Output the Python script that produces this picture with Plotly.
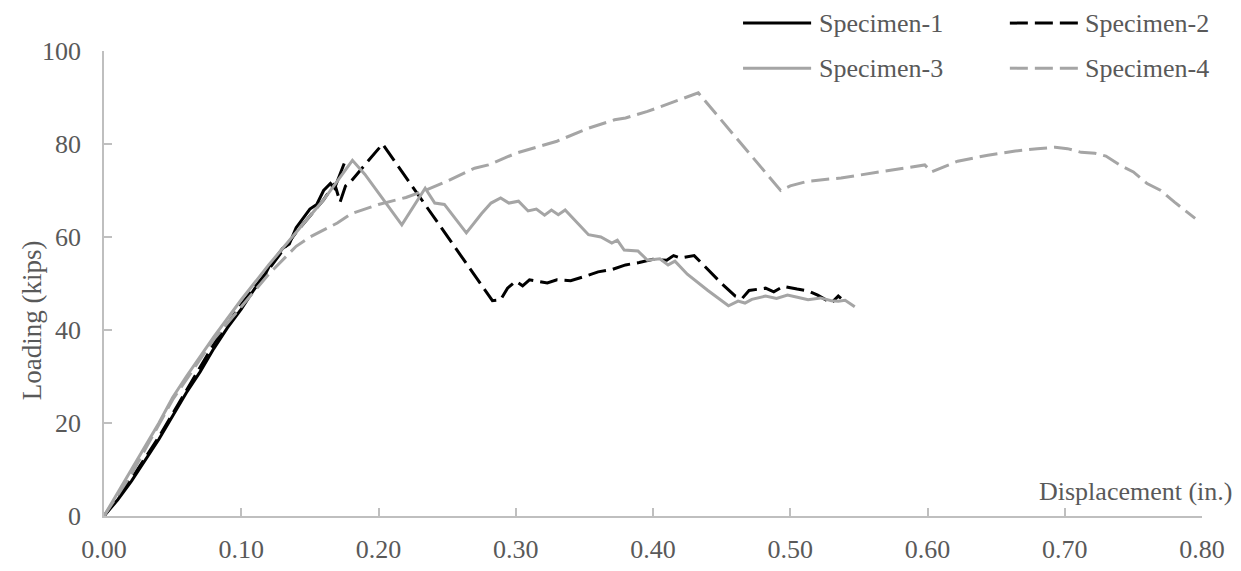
import plotly.graph_objects as go

# ---- data (displacement in., load kips) ----
s1_x = [0.0, 0.01, 0.02, 0.03, 0.04, 0.05, 0.06, 0.07, 0.08, 0.09, 0.10, 0.11, 0.115, 0.12, 0.13, 0.135, 0.14, 0.15, 0.155, 0.16, 0.165, 0.168, 0.172, 0.175]
s1_y = [0.0, 3.5, 7.5, 12.0, 16.5, 21.5, 26.5, 31.0, 36.0, 40.5, 44.5, 49.0, 50.5, 53.5, 57.5, 58.5, 62.0, 66.0, 67.0, 70.0, 71.5, 70.5, 73.5, 75.8]

s2_x = [0.0, 0.02, 0.04, 0.06, 0.08, 0.10, 0.12, 0.14, 0.16, 0.168, 0.172, 0.176, 0.18, 0.19, 0.203, 0.283, 0.289, 0.294, 0.30, 0.305, 0.31, 0.316, 0.323, 0.33, 0.34, 0.35, 0.36, 0.37, 0.38, 0.39, 0.40, 0.41, 0.415, 0.42, 0.43, 0.435, 0.45, 0.46, 0.465, 0.47, 0.482, 0.488, 0.495, 0.505, 0.513, 0.52, 0.53, 0.535, 0.537]
s2_y = [0.0, 8.0, 17.0, 27.0, 37.0, 45.5, 53.0, 61.0, 68.0, 71.5, 67.5, 71.0, 72.0, 75.5, 80.0, 46.3, 46.5, 49.0, 50.5, 49.5, 50.8, 50.5, 50.1, 50.8, 50.6, 51.5, 52.5, 53.0, 54.0, 54.5, 55.2, 55.0, 56.0, 55.5, 56.0, 54.5, 50.0, 47.3, 46.8, 48.5, 49.0, 48.2, 49.4, 48.8, 48.4, 47.5, 45.8, 47.3, 46.8]

s3_x = [0.0, 0.02, 0.04, 0.05, 0.06, 0.08, 0.10, 0.12, 0.14, 0.16, 0.17, 0.175, 0.181, 0.19, 0.217, 0.234, 0.241, 0.248, 0.264, 0.275, 0.282, 0.289, 0.295, 0.302, 0.309, 0.315, 0.321, 0.326, 0.331, 0.336, 0.345, 0.353, 0.362, 0.37, 0.374, 0.379, 0.389, 0.396, 0.405, 0.411, 0.416, 0.425, 0.44, 0.455, 0.462, 0.467, 0.472, 0.482, 0.49, 0.498, 0.506, 0.513, 0.522, 0.53, 0.535, 0.54, 0.547]
s3_y = [0.0, 10.0, 20.0, 25.5, 30.0, 38.5, 46.5, 54.0, 61.0, 68.0, 72.0, 74.0, 76.5, 73.5, 62.6, 70.5, 67.3, 67.0, 60.9, 65.0, 67.3, 68.4, 67.3, 67.7, 65.6, 66.0, 64.7, 65.8, 64.8, 65.8, 63.0, 60.5, 60.0, 58.7, 59.3, 57.2, 57.0, 55.0, 55.3, 54.0, 54.8, 52.0, 48.5, 45.2, 46.2, 45.8, 46.6, 47.3, 46.8, 47.5, 47.0, 46.5, 46.9, 46.3, 46.2, 46.4, 45.0]

s4_x = [0.0, 0.02, 0.05, 0.08, 0.10, 0.12, 0.14, 0.15, 0.17, 0.18, 0.20, 0.22, 0.234, 0.25, 0.27, 0.28, 0.30, 0.33, 0.353, 0.372, 0.38, 0.396, 0.433, 0.493, 0.50, 0.513, 0.537, 0.561, 0.586, 0.598, 0.603, 0.622, 0.644, 0.664, 0.68, 0.693, 0.702, 0.712, 0.722, 0.73, 0.741, 0.75, 0.76, 0.77, 0.78, 0.795]
s4_y = [0.0, 9.0, 25.0, 38.0, 45.0, 52.0, 58.0, 60.0, 63.0, 65.0, 67.0, 68.5, 70.0, 72.0, 74.8, 75.5, 78.0, 80.6, 83.4, 85.2, 85.6, 87.0, 91.0, 70.0, 71.0, 72.0, 72.7, 73.8, 75.0, 75.5, 74.0, 76.3, 77.6, 78.5, 79.0, 79.3, 79.0, 78.2, 78.0, 77.4, 75.3, 74.0, 71.5, 70.0, 67.5, 64.0]

names = ["Specimen-1", "Specimen-2", "Specimen-3", "Specimen-4"]
x_ticks = [0.0, 0.1, 0.2, 0.3, 0.4, 0.5, 0.6, 0.7, 0.8]
x_tick_labels = ["0.00", "0.10", "0.20", "0.30", "0.40", "0.50", "0.60", "0.70", "0.80"]
y_ticks = [0, 20, 40, 60, 80, 100]

BLACK = "#000000"
GRAY = "#A5A5A5"
TXT = "#595959"
AXC = "#BFBFBF"
FONT = "Liberation Serif"
DASH = "18px,7px"
FS = 26

series = [
    (names[0], s1_x, s1_y, BLACK, "solid"),
    (names[1], s2_x, s2_y, BLACK, DASH),
    (names[2], s3_x, s3_y, GRAY, "solid"),
    (names[3], s4_x, s4_y, GRAY, DASH),
]

fig = go.Figure()
for nm, xs, ys, col, dash in series:
    fig.add_trace(go.Scatter(x=xs, y=ys, mode="lines", name=nm, showlegend=False,
                             line=dict(color=col, width=3, dash=dash)))

# legend drawn as key lines + text (2 columns x 2 rows), paper coordinates
leg_cols = [0.582, 0.825]          # key line start (paper x)
leg_rows = [1.060, 0.963]          # row centre (paper y)
key_len = 0.062
shapes = []
annotations = []
for i, (nm, xs, ys, col, dash) in enumerate(series):
    cx = leg_cols[i % 2]
    ry = leg_rows[i // 2]
    shapes.append(dict(type="line", xref="paper", yref="paper",
                       x0=cx, x1=cx + key_len, y0=ry, y1=ry,
                       line=dict(color=col, width=3, dash=dash)))
    annotations.append(dict(text=nm, xref="paper", yref="paper", x=cx + key_len + 0.005, y=ry,
                            xanchor="left", yanchor="middle", showarrow=False,
                            font=dict(family=FONT, size=FS, color=TXT)))

annotations.append(dict(text="Displacement (in.)", xref="paper", yref="paper", x=1.030, y=0.052,
                        xanchor="right", yanchor="middle", showarrow=False,
                        font=dict(family=FONT, size=FS, color=TXT)))
annotations.append(dict(text="Loading (kips)", xref="paper", yref="paper", x=-0.066, y=0.42,
                        xanchor="center", yanchor="middle", textangle=-90, showarrow=False,
                        font=dict(family=FONT, size=27, color=TXT)))

fig.update_layout(
    width=1241, height=571,
    margin=dict(l=96, r=47, t=43, b=63, autoexpand=False),
    paper_bgcolor="white", plot_bgcolor="white",
    font=dict(family=FONT, size=FS, color=TXT),
    showlegend=False,
    shapes=shapes,
    annotations=annotations,
    xaxis=dict(range=[0, 0.8], tickvals=x_ticks, ticktext=x_tick_labels, automargin=False,
               showgrid=False, zeroline=False, showline=True, linecolor=AXC, linewidth=1.75,
               ticks="inside", ticklen=8, tickcolor=AXC, tickwidth=1.75, ticklabelstandoff=9,
               tickfont=dict(family=FONT, size=FS, color=TXT)),
    yaxis=dict(range=[0, 100], tickvals=y_ticks, automargin=False,
               showgrid=False, zeroline=False, showline=True, linecolor=AXC, linewidth=1.75,
               ticks="inside", ticklen=8, tickcolor=AXC, tickwidth=1.75, ticklabelstandoff=16,
               tickfont=dict(family=FONT, size=FS, color=TXT)),
)

fig.write_html("out.html")
